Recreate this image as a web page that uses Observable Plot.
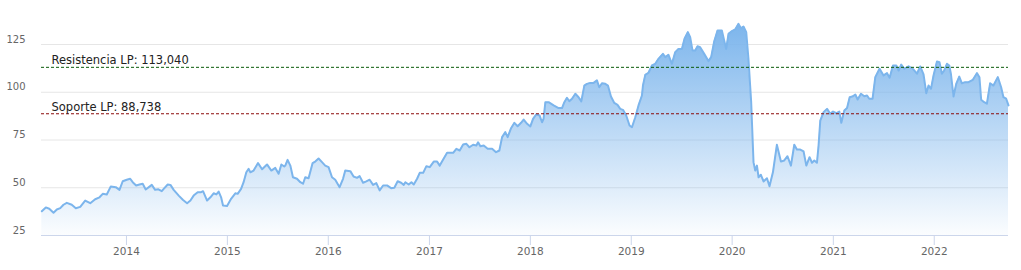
<!DOCTYPE html>
<html>
<head>
<meta charset="utf-8">
<script src="https://cdn.jsdelivr.net/npm/d3@7"></script>
<script src="https://cdn.jsdelivr.net/npm/@observablehq/plot@0.6"></script>
<style>
  html, body { margin: 0; padding: 0; background: #ffffff; }
  #chart { width: 1021px; height: 270px; }
</style>
</head>
<body>
<div id="chart"></div>
<script>
// ---- Data ----
// time as decimal years
const times = [
  2013.161,2013.201,2013.235,2013.277,2013.310,2013.344,2013.376,2013.409,2013.458,2013.498,
  2013.542,2013.591,2013.641,2013.690,2013.733,2013.765,2013.805,2013.845,2013.894,2013.931,
  2013.963,2014.003,2014.037,2014.062,2014.096,2014.129,2014.161,2014.191,2014.251,2014.284,
  2014.317,2014.350,
  2014.369,2014.409,2014.436,2014.468,2014.518,2014.561,2014.601,2014.634,2014.666,2014.706,
  2014.740,2014.759,2014.799,2014.832,2014.864,2014.891,2014.914,2014.938,2014.957,2014.997,
  2015.037,2015.079,2015.102,2015.136,2015.161,2015.188,2015.211,2015.228,2015.260,2015.304,
  2015.344,2015.393,2015.436,2015.475,2015.508,2015.535,2015.564,
  2015.574,2015.597,2015.624,2015.650,2015.690,2015.723,2015.750,2015.772,2015.805,2015.845,
  2015.871,2015.904,2015.938,2015.970,2016.003,2016.037,2016.069,2016.112,2016.146,2016.168,
  2016.218,2016.250,2016.284,2016.310,2016.344,2016.376,2016.409,2016.443,2016.475,2016.508,
  2016.542,2016.581,2016.621,2016.653,2016.686,2016.720,
  2016.746,2016.762,2016.795,2016.822,2016.845,2016.878,2016.904,2016.938,2016.970,2017.003,
  2017.043,2017.076,2017.102,2017.136,2017.175,2017.208,2017.235,2017.267,2017.300,2017.334,
  2017.366,2017.396,2017.433,2017.465,2017.482,2017.505,2017.538,2017.577,2017.621,2017.660,
  2017.693,2017.720,2017.752,2017.775,2017.809,2017.842,2017.874,2017.908,2017.934,
  2017.968,2018.000,2018.027,2018.059,2018.092,2018.116,2018.131,2018.149,2018.181,2018.231,
  2018.280,2018.314,2018.337,2018.363,2018.386,2018.413,2018.446,2018.478,2018.505,2018.535,
  2018.561,2018.594,2018.627,2018.660,2018.683,2018.710,2018.743,2018.769,2018.799,2018.832,
  2018.864,2018.891,2018.918,2018.950,2018.983,2019.007,2019.040,2019.072,2019.106,
  2019.116,2019.139,2019.171,2019.205,2019.238,2019.270,2019.314,2019.337,2019.369,2019.403,
  2019.436,2019.468,2019.502,2019.528,2019.561,2019.584,2019.607,2019.634,2019.657,2019.683,
  2019.723,2019.765,2019.792,2019.822,2019.855,2019.898,2019.921,2019.941,2019.964,2019.998,
  2020.030,2020.063,2020.087,2020.112,2020.139,2020.161,2020.188,2020.211,2020.228,2020.245,
  2020.261,2020.284,
  2020.310,2020.344,2020.369,2020.403,2020.442,2020.482,2020.515,2020.547,2020.581,2020.614,
  2020.640,2020.673,2020.706,2020.733,2020.765,2020.789,2020.812,2020.838,2020.854,2020.871,
  2020.904,2020.938,2020.970,2020.997,2021.030,2021.059,2021.079,2021.109,2021.136,2021.162,
  2021.195,2021.218,2021.241,2021.274,2021.307,2021.334,2021.356,2021.389,2021.416,2021.458,
  2021.498,2021.532,2021.558,2021.591,2021.624,2021.647,2021.673,2021.703,2021.746,2021.789,
  2021.829,2021.861,2021.894,2021.921,2021.944,2021.968,2021.993,2022.027,2022.052,2022.076,
  2022.099,2022.126,2022.149,2022.165,2022.191,2022.218,2022.248,2022.274,2022.307,2022.340,
  2022.383,2022.423,2022.448,2022.465,2022.495,2022.522,2022.554,2022.587,2022.630,2022.663,
  2022.686,2022.713,2022.736
];
const prices = [
  37.7,39.7,39.0,36.9,38.6,39.3,41.1,42.1,41.1,39.3,
  40.0,43.3,41.9,44.0,45.0,46.8,46.5,50.7,50.3,48.9,
  53.4,54.2,54.7,52.9,51.2,51.7,52.1,49.1,51.5,48.9,
  49.2,48.2,
  49.4,51.7,51.5,48.9,45.9,43.6,41.9,43.3,45.9,47.7,
  47.7,48.2,43.3,45.0,47.1,46.5,48.0,45.0,40.7,40.5,
  44.2,47.1,46.8,49.4,52.9,58.1,59.9,58.1,59.0,62.9,
  59.7,62.2,59.0,60.4,57.3,62.2,61.1,
  61.6,64.6,61.6,55.5,54.7,52.9,52.1,55.5,55.0,62.9,
  63.7,65.3,63.4,61.6,60.8,55.5,54.2,50.3,54.7,59.0,
  58.7,55.9,55.2,56.1,52.6,53.3,54.2,51.5,52.4,48.6,
  51.2,51.2,49.8,50.0,53.4,52.6,
  51.5,52.9,51.7,52.9,51.7,54.7,57.8,57.8,61.3,60.8,
  63.7,63.7,61.6,64.8,68.3,68.3,68.3,70.4,69.5,72.6,
  73.0,71.2,72.5,72.1,73.8,71.7,72.1,70.4,70.4,68.6,
  69.5,76.5,79.1,76.5,81.2,84.0,82.2,84.0,85.7,
  83.5,82.1,86.1,88.4,87.8,84.3,86.1,94.8,94.8,93.1,
  91.7,91.7,94.8,97.1,95.3,96.6,99.2,97.4,95.2,103.5,
  104.4,104.9,104.9,106.2,102.6,104.7,104.4,103.5,97.8,94.4,
  93.4,91.3,90.8,87.8,82.6,81.7,86.9,93.1,98.3,
  103.5,109.1,110.2,114.0,114.9,117.5,120.1,118.4,119.6,114.9,
  121.0,122.7,122.7,128.0,131.5,128.8,121.9,121.9,124.1,123.6,
  120.1,116.3,118.4,126.6,132.3,132.3,127.1,122.7,130.6,132.0,
  132.9,135.8,133.5,134.4,131.5,117.5,94.8,63.4,59.0,61.6,
  55.5,56.8,
  53.3,55.0,50.8,58.1,72.5,63.7,64.3,66.5,61.6,72.5,
  70.0,70.0,69.0,61.6,66.0,63.1,64.3,63.1,72.1,85.2,
  89.6,91.3,88.7,89.9,89.0,89.9,84.0,90.4,91.7,97.4,
  97.9,98.8,96.2,99.2,97.9,98.3,96.6,96.6,107.9,112.3,
  108.8,110.0,107.6,114.0,114.0,111.4,114.5,112.3,113.6,112.3,
  109.7,113.5,109.3,99.5,103.5,101.8,108.8,116.1,115.7,109.7,
  111.4,114.9,114.0,109.7,97.8,104.4,108.2,104.7,105.3,105.3,
  106.5,110.0,107.9,96.1,94.8,94.0,104.7,103.5,107.9,102.6,
  97.4,96.6,93.1
];
const xStart = 2013.158;
const xEnd = 2022.736;
const yTicks = [25, 50, 75, 100, 125];
const yearTicks = [2014, 2015, 2016, 2017, 2018, 2019, 2020, 2021, 2022];
const levelNames = ["Resistencia LP", "Soporte LP"];
const levelValues = [113.040, 88.738];
const levelColors = ["#0b5d0b", "#8b0a0a"];

// ---- helpers ----
function toDate(t) {
  const y = Math.floor(t);
  const start = Date.UTC(y, 0, 1), end = Date.UTC(y + 1, 0, 1);
  return new Date(start + (t - y) * (end - start));
}
const data = times.map((t, i) => ({date: toDate(t), v: prices[i]}));
const levels = levelNames.map((n, i) => ({
  name: n, value: levelValues[i], color: levelColors[i],
  label: n + ": " + levelValues[i].toFixed(3).replace(".", ",")
}));

const chart = Plot.plot({
  width: 1021,
  height: 270,
  marginLeft: 41,
  marginRight: 13,
  marginTop: 44,
  marginBottom: 35,
  style: {fontFamily: "'DejaVu Sans', sans-serif", background: "#ffffff", overflow: "visible"},
  x: {type: "utc", domain: [toDate(xStart), toDate(xEnd)]},
  y: {domain: [25, 125]},
  marks: [
    Plot.gridY(yTicks.slice(1), {stroke: "#e6e6e6", strokeOpacity: 1}),
    Plot.areaY(data, {x: "date", y1: 25, y2: "v", fill: "url(#areaGrad)"}),
    Plot.lineY(data, {x: "date", y: "v", stroke: "#7cb5ec", strokeWidth: 2}),
    Plot.ruleY([25], {stroke: "#ccd6eb"}),
    Plot.ruleY([levels[0]], {y: "value", stroke: levels[0].color, strokeDasharray: "3,2"}),
    Plot.ruleY([levels[1]], {y: "value", stroke: levels[1].color, strokeDasharray: "3,2"}),
    Plot.text(levels, {y: "value", text: "label", frameAnchor: "left", dx: 10, dy: -3,
      textAnchor: "start", lineAnchor: "bottom", fill: "#222", fontSize: 11.5}),
    Plot.axisY(yTicks, {tickSize: 0, tickPadding: 16, dy: -5, fill: "#666", fontSize: 10, label: null}),
    Plot.axisX(yearTicks.map(y => toDate(y)), {tickSize: 10, tickPadding: 2, stroke: "#ccd6eb",
      fill: "#666", fontSize: 10.5, tickFormat: d3.utcFormat("%Y"), label: null})
  ]
});

// gradient for the area fill
const ns = "http://www.w3.org/2000/svg";
const defs = document.createElementNS(ns, "defs");
const grad = document.createElementNS(ns, "linearGradient");
grad.setAttribute("id", "areaGrad");
grad.setAttribute("x1", "0"); grad.setAttribute("y1", "0");
grad.setAttribute("x2", "0"); grad.setAttribute("y2", "1");
[[0, 1], [1, 0.03]].forEach(([off, op]) => {
  const s = document.createElementNS(ns, "stop");
  s.setAttribute("offset", off);
  s.setAttribute("stop-color", "#7cb5ec");
  s.setAttribute("stop-opacity", op);
  grad.appendChild(s);
});
defs.appendChild(grad);
chart.insertBefore(defs, chart.firstChild);

document.getElementById("chart").appendChild(chart);
</script>
</body>
</html>
